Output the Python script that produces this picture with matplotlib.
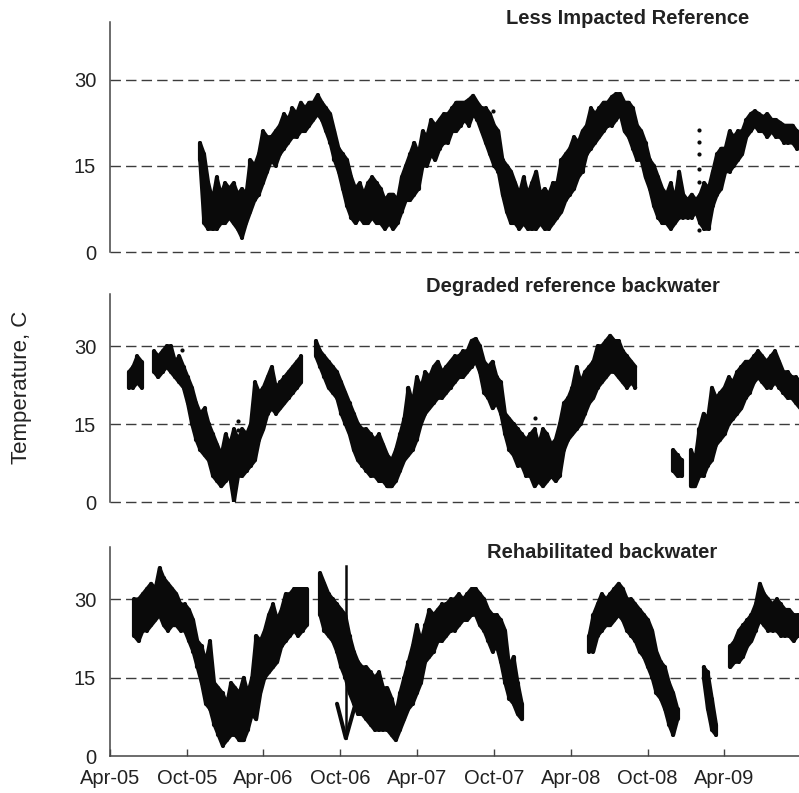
import numpy as np
import matplotlib
matplotlib.use("Agg")
import matplotlib.pyplot as plt

plt.rcParams['font.family'] = ['Liberation Sans', 'DejaVu Sans']

BASE = np.datetime64('2005-04-01')
STEP = 10  # days between envelope samples
X_END_DAY = 1639

panel_titles = ["Less Impacted Reference", "Degraded reference backwater", "Rehabilitated backwater"]
y_ticks = [0, 15, 30]
x_tick_labels = ["Apr-05", "Oct-05", "Apr-06", "Oct-06", "Apr-07", "Oct-07", "Apr-08", "Oct-08", "Apr-09"]
x_tick_dates = ["2005-04-01", "2005-10-01", "2006-04-01", "2006-10-01", "2007-04-01",
                "2007-10-01", "2008-04-01", "2008-10-01", "2009-04-01"]

# ---------------- Less Impacted Reference (day offsets from 2005-04-01) ----------------
less_starts = [214]
less_lo = [[16, 5, 4, 4, 4, 5, 5, 6, 5, 4,
            2.5, 5, 7, 9, 10, 12, 14, 16, 15, 17,
            18, 19, 20, 20, 21, 21, 22, 23, 24, 23,
            21, 19, 16, 14, 11, 8, 6, 5, 6, 5,
            5, 6, 5, 5, 4, 5, 4, 5, 7, 9,
            9, 10, 11, 15, 15, 17, 16, 18, 19, 19,
            21, 21, 22, 23, 22, 24, 23, 21, 19, 17,
            15, 14, 10, 7, 5, 5, 4, 5, 4, 4,
            4, 5, 4, 4, 5, 6, 7, 9, 10, 11,
            13, 14, 17, 18, 19, 20, 21, 22, 22, 23,
            24, 21, 20, 18, 16, 16, 13, 11, 8, 6,
            5, 5, 4, 5, 6, 6, 6, 6, 7, 5,
            4, 4, 8, 10, 11, 14, 14, 15, 16, 17,
            20, 21, 22, 21, 21, 20, 21, 20, 20, 19,
            19, 19, 18, 18]]
less_hi = [[19, 17, 12, 9, 13, 10, 12, 11, 12, 10,
            11, 10, 16, 15, 17, 21, 20, 20, 21, 22,
            24, 23, 25, 24, 26, 25, 26, 26, 27.3, 26,
            25, 24, 21, 18, 17, 16, 13, 11, 12, 10,
            12, 13, 12, 11, 9, 10, 10, 9, 13, 15,
            17, 19, 17, 21, 20, 23, 22, 23, 24, 24,
            25, 26, 26, 26, 26.5, 27.2, 26, 25, 25, 24,
            22, 21, 16, 15, 14, 12, 10, 13, 10, 12,
            14, 10, 11, 10, 12, 12, 16, 17, 18, 20,
            19, 21, 22, 25, 24, 25, 26, 26, 27, 27.5,
            27.5, 26, 26, 25, 22, 21, 19, 16, 15, 13,
            11, 10, 12, 9, 14, 10, 9, 10, 9, 10,
            12, 11, 14, 17, 18, 18, 21, 20, 21, 21,
            23, 24, 24.5, 24, 23.5, 24, 23, 23, 22.5, 22,
            22, 22, 21, 20]]
less_dot_days = [912, 1400, 1400, 1400, 1400, 1400, 1400]
less_dot_vals = [24.6, 21.2, 19.1, 17.0, 14.4, 12.1, 3.8]

# ---------------- Degraded reference backwater ----------------
degr_starts = [45, 105, 490, 1340, 1382]
degr_lo = [[22, 22, 23, 22],
           [25, 24, 25, 26, 25, 24, 23, 22, 19, 15,
            12, 10, 9, 8, 5, 4, 3, 4, 5, 0,
            5, 5, 6, 7, 8, 12, 14, 17, 18, 17,
            18, 19, 20, 21, 22, 23],
           [28, 26, 24, 22, 21, 20, 17, 15, 13, 10,
            8, 7, 6, 5, 5, 4, 4, 3, 3, 4,
            6, 8, 9, 10, 12, 15, 17, 18, 19, 20,
            20, 21, 22, 23, 24, 24, 25, 26, 27, 25,
            21, 20, 18, 19, 17, 13, 10, 9, 7, 7,
            5, 5, 3, 4, 3, 4, 5, 4, 5, 10,
            12, 13, 14, 15, 17, 19, 20, 22, 23, 24,
            25, 25, 24, 23, 22, 23, 22],
           [6, 5, 5],
           [3, 3, 5, 5, 7, 8, 11, 12, 13, 15,
            16, 17, 18, 20, 21, 23, 24, 23, 22, 22,
            23, 22, 21, 20, 20, 19, 18]]
degr_hi = [[25, 26, 28, 27],
           [29, 28, 29, 30, 30, 27, 28, 26, 24, 22,
            19, 17, 18, 15, 13, 11, 9, 13, 11, 14,
            12, 14, 13, 15, 23, 21, 22, 24, 26, 22,
            23, 24, 25, 26, 27, 28],
           [31, 29, 28, 27, 26, 25, 23, 21, 19, 17,
            15, 14, 14, 13, 12, 13, 11, 9, 8, 10,
            13, 16, 22, 19, 24, 22, 25, 24, 26, 27,
            25, 26, 27, 28, 28, 29, 29, 31, 31.4, 30,
            27, 26, 27, 24, 23, 17, 16, 15, 14, 13,
            12, 13, 14, 11, 14, 13, 11, 12, 15, 19,
            20, 22, 26, 23, 25, 26, 27, 30, 30, 31,
            32, 31, 31, 29, 28, 27, 26],
           [10, 9, 8],
           [10, 8, 14, 17, 16, 22, 20, 21, 22, 24,
            23, 25, 26, 27, 27, 28, 29, 28, 27, 28,
            29, 27, 25, 25, 24, 24, 23]]
degr_dot_days = [171, 304, 304, 1010]
degr_dot_vals = [29.2, 15.6, 13.8, 16.2]

# ---------------- Rehabilitated backwater ----------------
rehab_starts = [58, 500, 1140, 1412, 1476]
rehab_lo = [[23, 22, 24, 24, 25, 26, 27, 25, 24, 25,
             25, 24, 24, 22, 20, 17, 14, 10, 9, 6,
             4, 2, 3, 4, 4, 3, 3, 5, 8, 7,
             12, 15, 16, 17, 18, 21, 22, 23, 24, 23,
             24, 25],
            [27, 24, 23, 22, 20, 17, 15, 12, 10, 8,
             8, 7, 6, 5, 5, 5, 5, 4, 3, 5,
             7, 9, 10, 12, 14, 18, 19, 20, 22, 22,
             23, 24, 24, 25, 26, 26, 27, 27, 25, 24,
             22, 20, 21, 18, 14, 11, 10, 8, 7],
            [20, 20, 23, 24, 25, 25, 26, 27, 26, 24,
             23, 22, 20, 19, 17, 15, 12, 11, 9, 6,
             4, 7],
            [15, 9, 5, 4],
            [17, 18, 18, 19, 21, 22, 24, 26, 25, 24,
             24, 24, 23, 23, 23, 22, 23]]
rehab_hi = [[30, 30, 31, 32, 33, 32, 36, 34, 33, 32,
             31, 29, 29, 28, 26, 22, 21, 18, 22, 14,
             13, 12, 10, 14, 13, 12, 15, 12, 15, 23,
             22, 24, 27, 29, 26, 28, 31, 31, 32, 32,
             32, 32],
            [35, 33, 31, 30, 29, 28, 27, 23, 20, 18,
             17, 17, 16, 15, 16, 13, 13, 11, 8, 12,
             15, 18, 21, 25, 22, 25, 28, 27, 28, 29,
             29, 30, 30, 31, 30, 31, 32, 32, 31, 30,
             28, 27, 27, 26, 24, 17, 19, 14, 10],
            [23, 27, 29, 31, 30, 31, 32, 33, 32, 30,
             30, 29, 28, 27, 26, 24, 20, 18, 17, 14,
             12, 9],
            [17, 16, 11, 6],
            [21, 22, 24, 25, 26, 27, 29, 33, 31, 30,
             29, 30, 29, 28, 28, 27, 27]]
rehab_v_days = [540, 561, 584]
rehab_v_vals = [10, 3.4, 10]
rehab_spike_days = [561, 561]
rehab_spike_vals = [3.4, 36.3]

INK = '#0a0a0a'


def to_dates(days):
    return BASE + np.asarray(days, dtype=int).astype('timedelta64[D]')


def draw_band(ax, start, lo, hi):
    lo = np.asarray(lo, float)
    hi = np.asarray(hi, float)
    days = start + STEP * np.arange(len(lo))
    d = to_dates(days)
    ax.fill_between(d, lo, hi, color=INK, lw=0, zorder=3)
    ax.vlines(d, lo, hi, color=INK, lw=3.0, capstyle='round', zorder=4)
    for edge in (hi, lo):
        ax.plot(d, edge, color=INK, lw=2.6, solid_joinstyle='round',
                solid_capstyle='round', zorder=4)


W, H = 799, 793
fig = plt.figure(figsize=(W / 100, H / 100), dpi=100)

# axes boxes in pixels: (top, bottom)
boxes = [(22, 252), (294, 502), (547, 756)]
left_px = 110
axes = []
for (top, bot) in boxes:
    ax = fig.add_axes([left_px / W, 1 - bot / H, (W - left_px) / W, (bot - top) / H])
    axes.append(ax)

series = [(less_starts, less_lo, less_hi),
          (degr_starts, degr_lo, degr_hi),
          (rehab_starts, rehab_lo, rehab_hi)]

grid_col = '#3c3c3c'
for i, ax in enumerate(axes):
    ax.set_xlim(BASE, BASE + np.timedelta64(X_END_DAY, 'D'))
    ax.set_ylim(0, 40)
    for s in ['top', 'right']:
        ax.spines[s].set_visible(False)
    ax.spines['left'].set_color('#444444')
    ax.spines['left'].set_linewidth(1.1)
    for yv in y_ticks:
        if i == 2 and yv == 0:
            continue
        ax.axhline(yv, color=grid_col, lw=1.0, dashes=[7.5, 3.7], zorder=1, clip_on=False)
    ax.set_yticks(y_ticks)
    ax.set_yticklabels([str(v) for v in y_ticks])
    ax.tick_params(axis='y', length=0, pad=10, labelsize=14.5, labelcolor='#222222')
    st, lo, hi = series[i]
    for s0, l, h in zip(st, lo, hi):
        draw_band(ax, s0, l, h)
    if i < 2:
        ax.spines['bottom'].set_visible(False)
        ax.set_xticks([])

# isolated readings
axes[0].scatter(to_dates(less_dot_days), less_dot_vals, s=9, color=INK, zorder=5, lw=0)
axes[1].scatter(to_dates(degr_dot_days), degr_dot_vals, s=9, color=INK, zorder=5, lw=0)
axes[2].plot(to_dates(rehab_v_days), rehab_v_vals, color=INK, lw=2.9,
             solid_joinstyle='round', solid_capstyle='round', zorder=4)
axes[2].plot(to_dates(rehab_spike_days), rehab_spike_vals, color=INK, lw=1.8, zorder=4)

# bottom axis
axb = axes[2]
axb.spines['bottom'].set_color('#444444')
axb.spines['bottom'].set_linewidth(1.1)
axb.set_xticks([np.datetime64(d) for d in x_tick_dates])
axb.set_xticklabels(x_tick_labels)
axb.tick_params(axis='x', direction='in', length=5, width=1, color='#444444',
                pad=9, labelsize=14.5, labelcolor='#222222')

# titles
title_pos = [(628, 18), (573, 287), (602, 553)]
for t, (px, py) in zip(panel_titles, title_pos):
    fig.text(px / W, 1 - py / H, t, ha='center', va='center',
             fontsize=14.5, fontweight='bold', color='#222222')

fig.text(22 / W, 1 - 387 / H, "Temperature, C", rotation=90, ha='center', va='center',
         fontsize=16, color='#222222')

fig.savefig("out.png", dpi=100, facecolor='white')
